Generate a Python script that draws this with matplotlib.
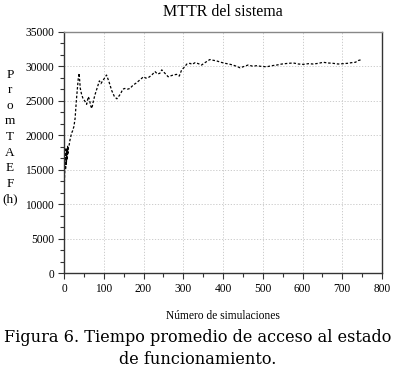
import numpy as np
import matplotlib
matplotlib.use("Agg")
import matplotlib.pyplot as plt
from matplotlib.ticker import MultipleLocator

# data
sim = [1, 2, 3, 4, 5, 6, 7, 8, 9, 10, 11, 13, 15, 17, 19, 22, 25, 28, 31, 34, 36, 38,
       41, 44, 48, 52, 57, 61, 64, 67, 70, 74, 78, 83, 89, 93, 97, 102, 107,
       113, 120, 127, 133, 137, 142, 148, 153, 160, 166, 174, 182, 190, 200,
       206, 212, 220, 229, 235, 241, 246, 254, 262, 272, 283, 290, 296, 303,
       309, 317, 322, 330, 338, 346, 356, 367, 375, 384, 395, 405, 415, 425,
       435, 443, 453, 463, 474, 485, 497, 510, 522, 535, 548, 564, 577, 590,
       602, 615, 627, 640, 652, 665, 677, 690, 702, 713, 724, 733, 740, 749]
mttr = [13200, 14900, 17500, 15000, 18200, 15800, 17800, 16400, 18400, 17200, 18200,
        18600, 19300, 19800, 20300, 20700, 21300, 22500, 25000, 27000, 28300, 29000,
        26800, 26000, 25300, 25000, 24500, 25600, 25200, 24300, 23900, 25000, 25900,
        26800, 27900, 27500, 27900, 28300, 28750, 27800, 26500, 25600, 25300, 25600,
        26000, 26700, 26800, 26700, 26800, 27300, 27600, 28000, 28500, 28300, 28370,
        28700, 29250, 28900, 29000, 29500, 29000, 28500, 28700, 28850, 28600, 29500,
        29900, 30350, 30450, 30300, 30550, 30400, 30200, 30600, 31000, 30900, 30800,
        30600, 30450, 30350, 30200, 30000, 29800, 30000, 30200, 30050, 30100, 30000,
        29950, 30100, 30200, 30350, 30450, 30500, 30350, 30300, 30400, 30350, 30450,
        30600, 30500, 30450, 30350, 30400, 30450, 30550, 30600, 30850, 31000]

serif = "Liberation Serif"

fig = plt.figure(figsize=(3.96, 3.74), dpi=100)
ax = fig.add_axes([64 / 396, 1 - 273 / 374, 318 / 396, 241 / 374])

ax.plot(sim, mttr, color="black", linewidth=0.9, linestyle=(0, (2, 1.5)))

ax.set_xlim(0, 800)
ax.set_ylim(0, 35000)
ax.xaxis.set_major_locator(MultipleLocator(100))
ax.xaxis.set_minor_locator(MultipleLocator(50))
ax.yaxis.set_major_locator(MultipleLocator(5000))
ax.yaxis.set_minor_locator(MultipleLocator(5000 / 3))
ax.grid(True, which="major", color="#c4c4c4", linestyle=(0, (1.5, 2)), linewidth=0.6)
ax.tick_params(which="both", direction="out", color="#333333", labelsize=8.3,
               pad=3)
ax.tick_params(which="major", length=4, width=0.8)
ax.tick_params(which="minor", length=3, width=0.8)
for lab in ax.get_xticklabels() + ax.get_yticklabels():
    lab.set_fontfamily(serif)
for s in ax.spines.values():
    s.set_color("#333333")
    s.set_linewidth(1.0)
ax.spines["top"].set_color("#888888")

fig.text(223 / 396, 1 - 12 / 374, "MTTR del sistema", ha="center", va="center",
         fontsize=11.5, family=serif)
fig.text(223 / 396, 1 - 316 / 374, "Número de simulaciones", ha="center",
         va="center", fontsize=8.3, family=serif)
fig.text(10 / 396, 1 - 137 / 374, "P\nr\no\nm\nT\nA\nE\nF\n(h)", ha="center",
         va="center", fontsize=9.5, family=serif, linespacing=1.4)
fig.text(198 / 396, 1 - 337 / 374, "Figura 6. Tiempo promedio de acceso al estado",
         ha="center", va="center", fontsize=11.6, family="DejaVu Serif")
fig.text(198 / 396, 1 - 359 / 374, "de funcionamiento.",
         ha="center", va="center", fontsize=11.6, family="DejaVu Serif")

fig.savefig("out.png", dpi=100)
